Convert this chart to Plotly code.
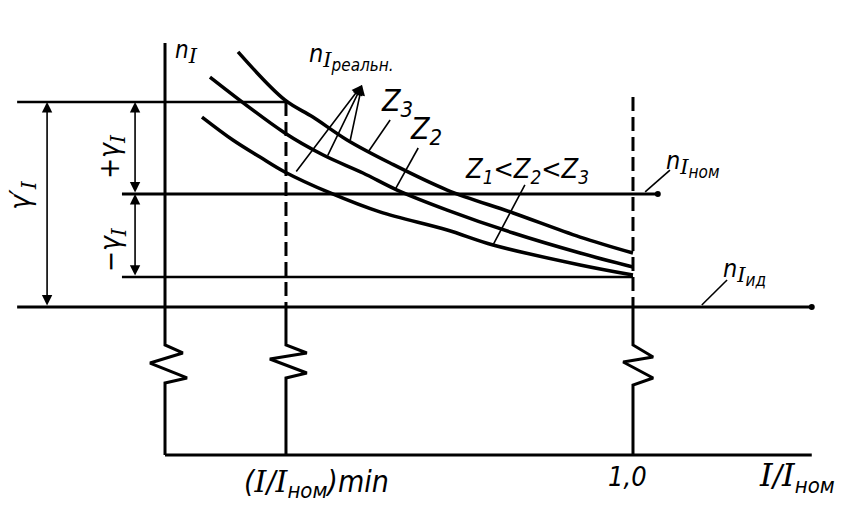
import plotly.graph_objects as go

# x = I/I_ном ; y = n_I in relative units (n_Iид = 0, n_Iном = 1)
x_min = 0.2585          # (I/I_ном)min
x_nom = 1.0             # 1,0
n_id = 0.0
n_nom = 1.0
n_up = 1.814            # n_Iном + γI
n_low = 0.265           # n_Iном − γI
base = -1.31            # broken axis baseline
axis_top = 2.336
break_top = -0.336

# real curves n_I(I/I_ном) for Z1 < Z2 < Z3
z3_x = [0.156, 0.256, 0.316, 0.389, 0.481, 0.603, 0.744, 0.887, 1.0]
z3_y = [2.257, 1.832, 1.681, 1.478, 1.274, 1.035, 0.832, 0.619, 0.478]
z2_x = [0.096, 0.256, 0.338, 0.423, 0.496, 0.603, 0.744, 0.887, 1.0]
z2_y = [2.035, 1.540, 1.345, 1.186, 1.035, 0.858, 0.655, 0.478, 0.354]
z1_x = [0.079, 0.145, 0.203, 0.256, 0.353, 0.459, 0.603, 0.701, 0.887, 1.0]
z1_y = [1.681, 1.478, 1.327, 1.195, 1.009, 0.841, 0.681, 0.549, 0.372, 0.283]

# axis-break zigzags
zig0_x = [0.0, 0.038, -0.032, 0.047, 0.0]
zig0_y = [-0.336, -0.407, -0.496, -0.628, -0.673]
zig1_x = [0.2585, 0.303, 0.224, 0.303, 0.2585]
zig1_y = [-0.336, -0.407, -0.460, -0.584, -0.628]
zig2_x = [1.0, 1.043, 0.979, 1.043, 1.0]
zig2_y = [-0.336, -0.442, -0.487, -0.628, -0.690]

FONT = "DejaVu Sans Condensed, Liberation Sans Narrow, Liberation Sans, sans-serif"
SERIF = "DejaVu Serif"
BLACK = "black"
DASH = "14px,6px"

fig = go.Figure()

def line(xs, ys, w=3, dash="solid", shape="linear"):
    fig.add_trace(go.Scatter(x=xs, y=ys, mode="lines",
                             line=dict(color=BLACK, width=w, dash=dash, shape=shape),
                             hoverinfo="skip", showlegend=False))

# horizontal levels
line([-0.316, 0.263], [n_up, n_up], 2.5)
line([-0.092, 1.053], [n_nom, n_nom], 3)
line([-0.092, x_nom], [n_low, n_low], 2.5)
line([-0.316, 1.382], [n_id, n_id], 3)
line([0.0, 1.382], [base, base], 3)

# end dots
fig.add_trace(go.Scatter(x=[1.053, 1.382], y=[n_nom, n_id], mode="markers",
                         marker=dict(color=BLACK, size=6), hoverinfo="skip", showlegend=False))

# vertical y axis with break
line([0.0, 0.0] + zig0_x + [0.0], [axis_top, break_top] + zig0_y + [base], 3)
# (I/I_ном)min verticals
line([x_min, x_min], [n_up, n_id], 3, dash=DASH)
line([x_min, x_min] + zig1_x + [x_min], [n_id, break_top] + zig1_y + [base], 3)
# 1,0 verticals
line([x_nom, x_nom], [1.858, n_id], 3, dash=DASH)
line([x_nom, x_nom] + zig2_x + [x_nom], [n_id, break_top] + zig2_y + [base], 3)

# curves
for cx, cy in [(z3_x, z3_y), (z2_x, z2_y), (z1_x, z1_y)]:
    line(cx, cy, 3.5, shape="spline")

ann = []

def arrow(x, y, ax, ay, both=False, head=2, w=1.6):
    ann.append(dict(x=x, y=y, ax=ax, ay=ay, xref="x", yref="y", axref="x", ayref="y",
                    text="", showarrow=True, arrowhead=head, arrowsize=1.3, arrowwidth=w,
                    arrowcolor=BLACK, arrowside="end+start" if both else "end",
                    standoff=0, startstandoff=0, startarrowhead=head, startarrowsize=1.3))

def leader(x0, y0, x1, y1, w=1.6):
    line([x0, x1], [y0, y1], w)

# dimension arrows
arrow(-0.252, n_up, -0.252, n_id, both=True)
arrow(-0.064, n_up, -0.064, n_nom, both=True)
arrow(-0.064, n_nom, -0.064, n_low, both=True)

# n_I реальн leaders
tip = (0.421, 1.965)
for sx, sy in [(0.278, 1.186), (0.346, 1.327), (0.395, 1.460)]:
    arrow(tip[0], tip[1], sx, sy)

leader(0.481, 1.655, 0.434, 1.372)
leader(0.541, 1.407, 0.491, 1.035)
leader(0.769, 1.080, 0.701, 0.549)
leader(1.079, 1.212, 1.026, 1.018)
leader(1.201, 0.239, 1.147, 0.018)

def text(x, y, t, size=22, angle=0):
    ann.append(dict(x=x, y=y, xref="x", yref="y", text="<i>" + t + "</i>", showarrow=False,
                    font=dict(family=FONT, size=size, color=BLACK), textangle=angle,
                    xanchor="center", yanchor="middle"))

def I(size):
    return '<span style="font-family:%s;font-size:%dpx">I</span>' % (SERIF, size)

def s(t, size):
    return '<span style="font-size:%dpx">%s</span>' % (size, t)

text(0.045, 2.257, "n<sub>" + I(21) + "</sub>", 24)
text(0.398, 2.212, "n<sub>" + I(21) + "<sub>" + s("реальн.", 17) + "</sub></sub>", 25)
text(0.496, 1.814, "Z<sub>" + s("3", 22) + "</sub>", 30)
text(0.558, 1.558, "Z<sub>" + s("2", 22) + "</sub>", 30)
text(0.774, 1.212, "Z<sub>1</sub>&lt;Z<sub>2</sub>&lt;Z<sub>3</sub>", 27)
text(1.128, 1.266, "n<sub>" + I(21) + "<sub>" + s("ном", 17) + "</sub></sub>", 25)
text(1.239, 0.310, "n<sub>" + I(21) + "<sub>" + s("ид", 17) + "</sub></sub>", 25)
text(-0.306, 0.991, "γ′<sub>" + I(20) + "</sub>", 28, -90)
text(-0.113, 1.328, "+γ<sub>" + I(20) + "</sub>", 28, -90)
text(-0.113, 0.504, "−γ<sub>" + I(20) + "</sub>", 28, -90)
text(0.323, -1.566, "(" + I(30) + "/" + I(30) + "<sub>" + s("ном", 22) + "</sub>)min", 30)
text(0.989, -1.504, "1,0", 27)
text(1.350, -1.504, I(32) + "/" + I(32) + "<sub>" + s("ном", 22) + "</sub>", 31)

fig.update_layout(
    width=858, height=510,
    margin=dict(l=0, r=0, t=0, b=0),
    paper_bgcolor="white", plot_bgcolor="white",
    xaxis=dict(range=[-0.3526, 1.4808], visible=False, fixedrange=True),
    yaxis=dict(range=[-1.7965, 2.7168], visible=False, fixedrange=True),
    annotations=ann,
    showlegend=False,
)

fig.write_html("out.html", config={"displayModeBar": False},
               post_script="document.body.style.margin='0';document.body.style.overflow='hidden';")
